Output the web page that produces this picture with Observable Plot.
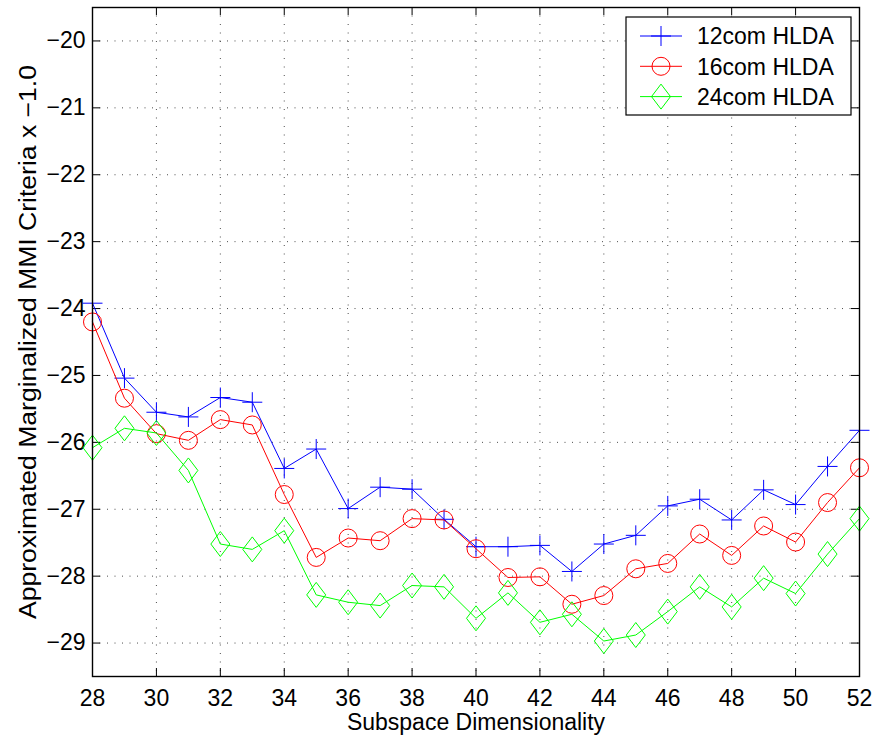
<!DOCTYPE html>
<html><head><meta charset="utf-8">
<script src="https://cdn.jsdelivr.net/npm/d3@7"></script>
<script src="https://cdn.jsdelivr.net/npm/@observablehq/plot@0.6"></script>
<style>
body{margin:0;background:#fff}
svg{font-family:"Liberation Sans",Arial,Helvetica,sans-serif}
</style>
</head><body><div id="chart"></div>
<script>
// ---- data ----
const dims = [28,29,30,31,32,33,34,35,36,37,38,39,40,41,42,43,44,45,46,47,48,49,50,51,52];
const hlda12 = [-23.92,-25.04,-25.55,-25.62,-25.33,-25.40,-26.39,-26.10,-26.99,-26.67,-26.70,-27.15,-27.56,-27.56,-27.54,-27.93,-27.52,-27.39,-26.95,-26.85,-27.16,-26.71,-26.93,-26.36,-25.82];
const hlda16 = [-24.20,-25.34,-25.87,-25.97,-25.66,-25.74,-26.78,-27.72,-27.43,-27.47,-27.14,-27.16,-27.59,-28.02,-28.01,-28.42,-28.29,-27.89,-27.81,-27.37,-27.69,-27.25,-27.49,-26.90,-26.38];
const hlda24 = [-26.08,-25.79,-25.86,-26.42,-27.52,-27.60,-27.32,-28.28,-28.39,-28.44,-28.14,-28.16,-28.63,-28.25,-28.69,-28.57,-28.97,-28.88,-28.53,-28.16,-28.46,-28.03,-28.26,-27.67,-27.14];
const seriesNames = ["12com HLDA","16com HLDA","24com HLDA"];
const seriesColors = ["#0000ff","#ff0000","#00ff00"];
const xTicks = [28,30,32,34,36,38,40,42,44,46,48,50,52];
const yTicks = [-20,-21,-22,-23,-24,-25,-26,-27,-28,-29];
const xLabel = "Subspace Dimensionality";
const yLabel = "Approximated Marginalized MMI Criteria x \u22121.0";

// ---- symbols ----
const plusSym = {draw(c){c.moveTo(-10,0);c.lineTo(10,0);c.moveTo(0,-10);c.lineTo(0,10);}};
const circleSym = {draw(c){c.moveTo(9,0);c.arc(0,0,9,0,2*Math.PI);c.closePath();}};
const diamondSym = {draw(c){c.moveTo(0,-12.5);c.lineTo(9.5,0);c.lineTo(0,12.5);c.lineTo(-9.5,0);c.closePath();}};
const symbols = [plusSym, circleSym, diamondSym];
const seriesValues = [hlda12, hlda16, hlda24];

const tables = seriesValues.map((vals, s) => dims.map((d, i) => ({x: d, y: vals[i], s})));

const W = 882, H = 739;
const mL = 92, mR = 23, mT = 7, mB = 63;
const ph = H - mT - mB, pw = W - mL - mR;

const seriesMarks = tables.flatMap((t, s) => [
  Plot.line(t, {x: "x", y: "y", stroke: seriesColors[s], strokeWidth: 1}),
  Plot.dot(t, {x: "x", y: "y", symbol: symbols[s], stroke: seriesColors[s], fill: "none", strokeWidth: 1})
]);

const fmtY = d => (d < 0 ? "\u2212" : "") + Math.abs(d);

const plot = Plot.plot({
  width: W, height: H,
  marginLeft: mL, marginRight: mR, marginTop: mT, marginBottom: mB,
  style: {background: "#fff", color: "#000", fontFamily: '"Liberation Sans",Arial,sans-serif', fontSize: "23px"},
  x: {domain: [28, 52]},
  y: {domain: [-29.5, -19.5]},
  marks: [
    Plot.gridX(xTicks, {stroke: "#000", strokeOpacity: 0.7, strokeDasharray: "1,7.5"}),
    Plot.gridY(yTicks, {stroke: "#000", strokeOpacity: 0.7, strokeDasharray: "1,6.5"}),
    Plot.axisX(xTicks, {tickSize: 0, tickPadding: 13, fontSize: 23, label: null, tickFormat: d => String(d)}),
    Plot.axisY(yTicks, {tickSize: 0, tickPadding: 7, fontSize: 23, label: null, tickFormat: fmtY}),
    Plot.tickX(xTicks, {x: d => d, insetTop: ph - 8, stroke: "#000"}),
    Plot.tickX(xTicks, {x: d => d, insetBottom: ph - 8, stroke: "#000"}),
    Plot.tickY(yTicks, {y: d => d, insetRight: pw - 8, stroke: "#000"}),
    Plot.tickY(yTicks, {y: d => d, insetLeft: pw - 8, stroke: "#000"}),
    ...seriesMarks,
    Plot.frame({stroke: "#000", strokeWidth: 1.4}),
    Plot.text([xLabel], {text: d => d, frameAnchor: "bottom", dy: 46, fontSize: 23, textAnchor: "middle", lineAnchor: "middle"}),
    Plot.text([yLabel], {text: d => d, frameAnchor: "left", rotate: -90, dx: -64, fontSize: 23, textAnchor: "middle", lineAnchor: "middle"})
  ]
});

const svg = d3.select(plot);
// stretch y label to the reference length
svg.selectAll("text").filter(function(){ return this.textContent === yLabel; })
  .attr("textLength", 554).attr("lengthAdjust", "spacingAndGlyphs");

// ---- legend ----
const lg = svg.append("g").attr("text-anchor", "start");
lg.append("rect").attr("x", 626).attr("y", 17).attr("width", 225).attr("height", 98)
  .attr("fill", "#fff").attr("stroke", "#000").attr("stroke-width", 1.2);
seriesNames.forEach((name, i) => {
  const cy = 36 + 30.3 * i;
  lg.append("line").attr("x1", 640).attr("x2", 682).attr("y1", cy).attr("y2", cy)
    .attr("stroke", seriesColors[i]).attr("stroke-width", 1);
  const p = d3.path(); symbols[i].draw(p);
  lg.append("path").attr("d", p.toString()).attr("transform", `translate(661,${cy})`)
    .attr("fill", "none").attr("stroke", seriesColors[i]).attr("stroke-width", 1);
  lg.append("text").attr("x", 697).attr("y", cy).attr("dy", "0.36em").attr("text-anchor", "start")
    .attr("font-size", 23).attr("fill", "#000").text(name);
});

document.getElementById("chart").appendChild(plot);
</script>
</body></html>
